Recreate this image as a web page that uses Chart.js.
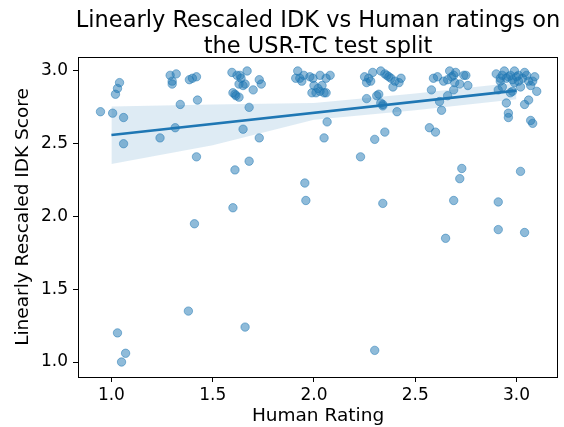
<!DOCTYPE html>
<html>
<head>
<meta charset="utf-8">
<script src="https://cdn.jsdelivr.net/npm/chart.js@4.4.1/dist/chart.umd.min.js"></script>
<style>
  html, body { margin: 0; padding: 0; background: #fff; }
  canvas { display: block; }
</style>
</head>
<body>
<canvas id="chart" width="564" height="427"></canvas>
<script>
// scatter points: human rating (jittered) and rescaled IDK score
var humanRating = [
  0.946, 1.006, 1.06, 1.02, 1.03, 1.04, 1.06, 1.03, 1.07, 1.05,
  1.24, 1.315, 1.34, 1.425, 1.29, 1.30, 1.30, 1.32, 1.385, 1.40, 1.42, 1.42, 1.41, 1.38,
  1.595, 1.62, 1.635, 1.67, 1.63, 1.65, 1.66, 1.70, 1.73, 1.74, 1.60, 1.61, 1.63, 1.68, 1.65, 1.73, 1.68, 1.61, 1.60, 1.66, 1.64, 1.615,
  1.91, 1.93, 1.95, 1.92, 1.995, 2.03, 2.06, 2.00, 2.01, 2.03, 2.05, 2.06, 1.99, 2.065, 2.05, 1.955, 1.96, 2.02, 2.04, 1.94, 2.08, 1.98,
  2.23, 2.26, 2.30, 2.31, 2.33, 2.34, 2.35, 2.41, 2.34, 2.30, 2.25, 2.27, 2.29, 2.26, 2.33, 2.35, 2.37, 2.38, 2.40, 2.42, 2.39, 2.36, 2.32, 2.34, 2.43, 2.28,
  2.57, 2.60, 2.62, 2.63, 2.66, 2.58, 2.65, 2.69, 2.73, 2.72, 2.67, 2.69, 2.74, 2.75, 2.76, 2.64, 2.695, 2.72, 2.69, 2.59, 2.61, 2.66, 2.70, 2.68,
  2.90, 2.92, 2.94, 2.96, 2.97, 2.99, 3.01, 3.03, 3.06, 3.09, 2.91, 2.93, 2.97, 2.98, 3.02, 3.07, 3.10, 2.95, 2.96, 2.96, 3.04, 3.06, 3.07, 3.08, 2.91, 2.91, 3.02, 3.04, 2.95, 2.98, 3.00, 3.05, 2.93, 3.08, 2.99, 3.01, 2.92, 3.04
];
var idkScore = [
  2.72, 2.71, 2.68, 2.84, 2.88, 2.92, 2.50, 1.20, 1.06, 1.00,
  2.54, 2.61, 2.77, 2.80, 2.97, 2.93, 2.91, 2.98, 2.94, 2.95, 2.96, 2.41, 1.95, 1.35,
  2.99, 2.97, 2.97, 3.00, 2.91, 2.90, 2.91, 2.87, 2.94, 2.91, 2.85, 2.84, 2.82, 2.75, 2.60, 2.54, 2.38, 2.32, 2.06, 1.24, 2.95, 2.83,
  2.95, 2.95, 2.97, 3.00, 2.95, 2.97, 2.95, 2.90, 2.85, 2.86, 2.85, 2.85, 2.85, 2.65, 2.54, 2.23, 2.11, 2.88, 2.90, 2.93, 2.97, 2.96,
  2.41, 2.81, 2.53, 2.83, 2.78, 2.76, 2.58, 2.72, 2.09, 1.08, 2.96, 2.95, 2.99, 2.92, 3.00, 2.98, 2.96, 2.95, 2.93, 2.92, 2.89, 2.97, 2.84, 2.77, 2.95, 2.93,
  2.61, 2.58, 2.79, 2.73, 2.83, 2.87, 1.85, 2.11, 2.33, 2.26, 3.00, 2.97, 2.97, 2.97, 2.90, 2.93, 2.92, 2.91, 2.87, 2.95, 2.96, 2.94, 2.99, 2.96,
  2.98, 2.95, 3.00, 2.96, 2.97, 3.00, 2.97, 2.95, 2.93, 2.96, 2.87, 2.89, 2.85, 2.86, 2.89, 2.90, 2.86, 2.78, 2.71, 2.68, 2.77, 2.80, 2.66, 2.64, 2.10, 1.91, 2.31, 1.89, 2.95, 2.94, 2.96, 2.97, 2.97, 2.93, 2.92, 2.93, 2.93, 2.99
];

// regression line and its confidence band
var fitX = [1.0, 3.0];
var fitY = [2.56, 2.865];
var bandX = [1.0, 1.5, 2.0, 2.5, 3.0];
var bandUpper = [2.755, 2.77, 2.78, 2.845, 2.92];
var bandLower = [2.36, 2.49, 2.665, 2.73, 2.805];

var xTickValues = [1.0, 1.5, 2.0, 2.5, 3.0];
var yTickValues = [1.0, 1.5, 2.0, 2.5, 3.0];
var titleLines = ["Linearly Rescaled IDK vs Human ratings on", "the USR-TC test split"];

function toPoints(xs, ys) {
  return xs.map(function (x, i) { return { x: x, y: ys[i] }; });
}

var blue = 'rgb(31, 119, 180)';

// draws the box round the plot and the two-line title over the plot area
var framePlugin = {
  id: 'frame',
  afterDraw: function (chart) {
    var c = chart.ctx, a = chart.chartArea;
    c.save();
    c.strokeStyle = '#000';
    c.lineWidth = 1;
    c.strokeRect(Math.round(a.left) + 0.5, Math.round(a.top) + 0.5,
      Math.round(a.right - a.left) - 1, Math.round(a.bottom - a.top));
    c.fillStyle = '#000';
    c.font = '22.5px "DejaVu Sans"';
    c.textAlign = 'center';
    c.textBaseline = 'alphabetic';
    var cx = (a.left + a.right) / 2;
    c.fillText(titleLines[0], cx, 27);
    c.fillText(titleLines[1], cx, 53);
    c.restore();
  }
};

var ctx = document.getElementById('chart').getContext('2d');
Chart.defaults.font.family = '"DejaVu Sans"';
Chart.defaults.color = '#000';

var chart = new Chart(ctx, {
  type: 'scatter',
  data: {
    datasets: [
      {
        label: 'points',
        data: toPoints(humanRating, idkScore),
        backgroundColor: 'rgba(31, 119, 180, 0.5)',
        borderColor: 'rgba(31, 119, 180, 0.5)',
        borderWidth: 1,
        pointRadius: 4.2,
        order: 3
      },
      {
        label: 'lower',
        data: toPoints(bandX, bandLower),
        showLine: true,
        pointRadius: 0,
        borderWidth: 0,
        borderColor: 'rgba(0,0,0,0)',
        fill: false,
        order: 2
      },
      {
        label: 'upper',
        data: toPoints(bandX, bandUpper),
        showLine: true,
        pointRadius: 0,
        borderWidth: 0,
        borderColor: 'rgba(0,0,0,0)',
        backgroundColor: 'rgba(31, 119, 180, 0.15)',
        fill: '-1',
        order: 2
      },
      {
        label: 'fit',
        data: toPoints(fitX, fitY),
        showLine: true,
        pointRadius: 0,
        borderColor: blue,
        borderWidth: 2.6,
        fill: false,
        order: 1
      }
    ]
  },
  options: {
    responsive: false,
    animation: false,
    layout: { padding: { top: 57, right: 6, left: 0, bottom: 0 } },
    plugins: {
      legend: { display: false },
      tooltip: { enabled: false },
      title: { display: false }
    },
    scales: {
      x: {
        type: 'linear',
        min: 0.835,
        max: 3.205,
        grid: { display: true, drawOnChartArea: false, drawTicks: true, tickLength: 5, color: '#000' },
        border: { display: false },
        ticks: { font: { size: 17 }, color: '#000', padding: 3, maxRotation: 0,
          callback: function (v) { return Number(v).toFixed(1); } },
        title: { display: true, text: 'Human Rating', font: { size: 18.5 }, color: '#000', padding: { top: 0, bottom: 0 } },
        afterBuildTicks: function (s) { s.ticks = xTickValues.map(function (v) { return { value: v }; }); },
        afterFit: function (s) { s.height = 50; }
      },
      y: {
        type: 'linear',
        min: 0.897,
        max: 3.096,
        grid: { display: true, drawOnChartArea: false, drawTicks: true, tickLength: 5, color: '#000' },
        border: { display: false },
        ticks: { font: { size: 17 }, color: '#000', padding: 5,
          callback: function (v) { return Number(v).toFixed(1); } },
        title: { display: true, text: 'Linearly Rescaled IDK Score', font: { size: 18.5 }, color: '#000', padding: { top: 12, bottom: 0 } },
        afterBuildTicks: function (s) { s.ticks = yTickValues.map(function (v) { return { value: v }; }); },
        afterFit: function (s) { s.width = 78; }
      }
    }
  },
  plugins: [framePlugin]
});
</script>
</body>
</html>
